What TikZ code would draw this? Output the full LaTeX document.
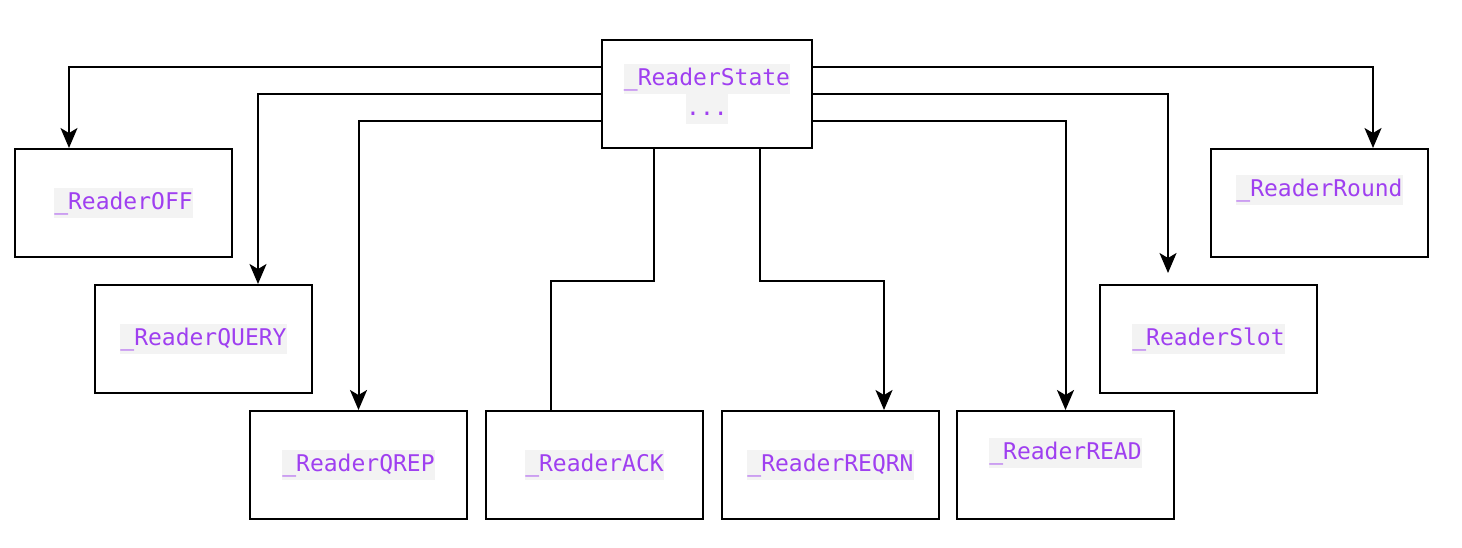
\documentclass[tikz,border=0pt]{standalone}
\usepackage{fontspec}
\newfontfamily\codefont{DejaVu Sans Mono}
\usetikzlibrary{arrows.meta, positioning}
\definecolor{codepurple}{HTML}{9F3FF0}
\definecolor{codebg}{HTML}{F3F3F3}
\newcommand{\code}[1]{{\setlength{\fboxsep}{0pt}\colorbox{codebg}{\strut\textcolor{codepurple}{#1}}}}
\newcommand{\codeup}[2]{\raisebox{#1}[\height][\depth]{\code{#2}}}

\begin{document}
\begin{tikzpicture}[x=1pt, y=1pt, line width=2pt,
	arr/.style={-{Stealth[length=20pt,width=17pt,inset=5pt]}},
	box/.style={draw, rectangle, minimum width=217pt, minimum height=108pt, inner sep=0pt, align=center,
		font=\codefont\fontsize{23}{30}\selectfont}]
		\useasboundingbox (0,0) rectangle (1462,-547);
		\node[box, minimum width=210pt]	(st)	at (707,-94)	{\code{\_ReaderState}\\\code{...}};
		\node[box]	(off)	at (123.5,-203)		{\code{\_ReaderOFF}};
		\node[box]	(qry)	at (203.5,-339)		{\code{\_ReaderQUERY}};
		\node[box]	(qrep)	at (358.5,-465)		{\code{\_ReaderQREP}};
		\node[box]	(ack)	at (594.5,-465)		{\code{\_ReaderACK}};
		\node[box]	(reqrn)	at (830.5,-465)		{\code{\_ReaderREQRN}};
		\node[box]	(read)	at (1065.5,-465)	{\codeup{12pt}{\_ReaderREAD}};
		\node[box]	(slot)	at (1208.5,-339)	{\code{\_ReaderSlot}};
		\node[box]	(rnd)	at (1319.5,-203)	{\codeup{13pt}{\_ReaderRound}};
		% left side
		\draw[arr] ([yshift=27pt]st.west) -| ([xshift=-54.5pt]off.north);
		\draw[arr] (st.west) -| ([xshift=54.5pt]qry.north);
		\draw[arr] ([yshift=-27pt]st.west) -| (qrep.north);
		% bottom
		\draw ([xshift=-53pt]st.south) -- ++(0,-132) -| ([xshift=-43.5pt]ack.north);
		\draw[arr] ([xshift=53pt]st.south) -- ++(0,-132) -| ([xshift=53.5pt]reqrn.north);
		% right side
		\draw[arr] ([yshift=-27pt]st.east) -| (read.north);
		\draw[arr, shorten >=11pt] (st.east) -| ([xshift=-40.5pt]slot.north);
		\draw[arr] ([yshift=27pt]st.east) -| ([xshift=53.5pt]rnd.north);
\end{tikzpicture}
\end{document}
